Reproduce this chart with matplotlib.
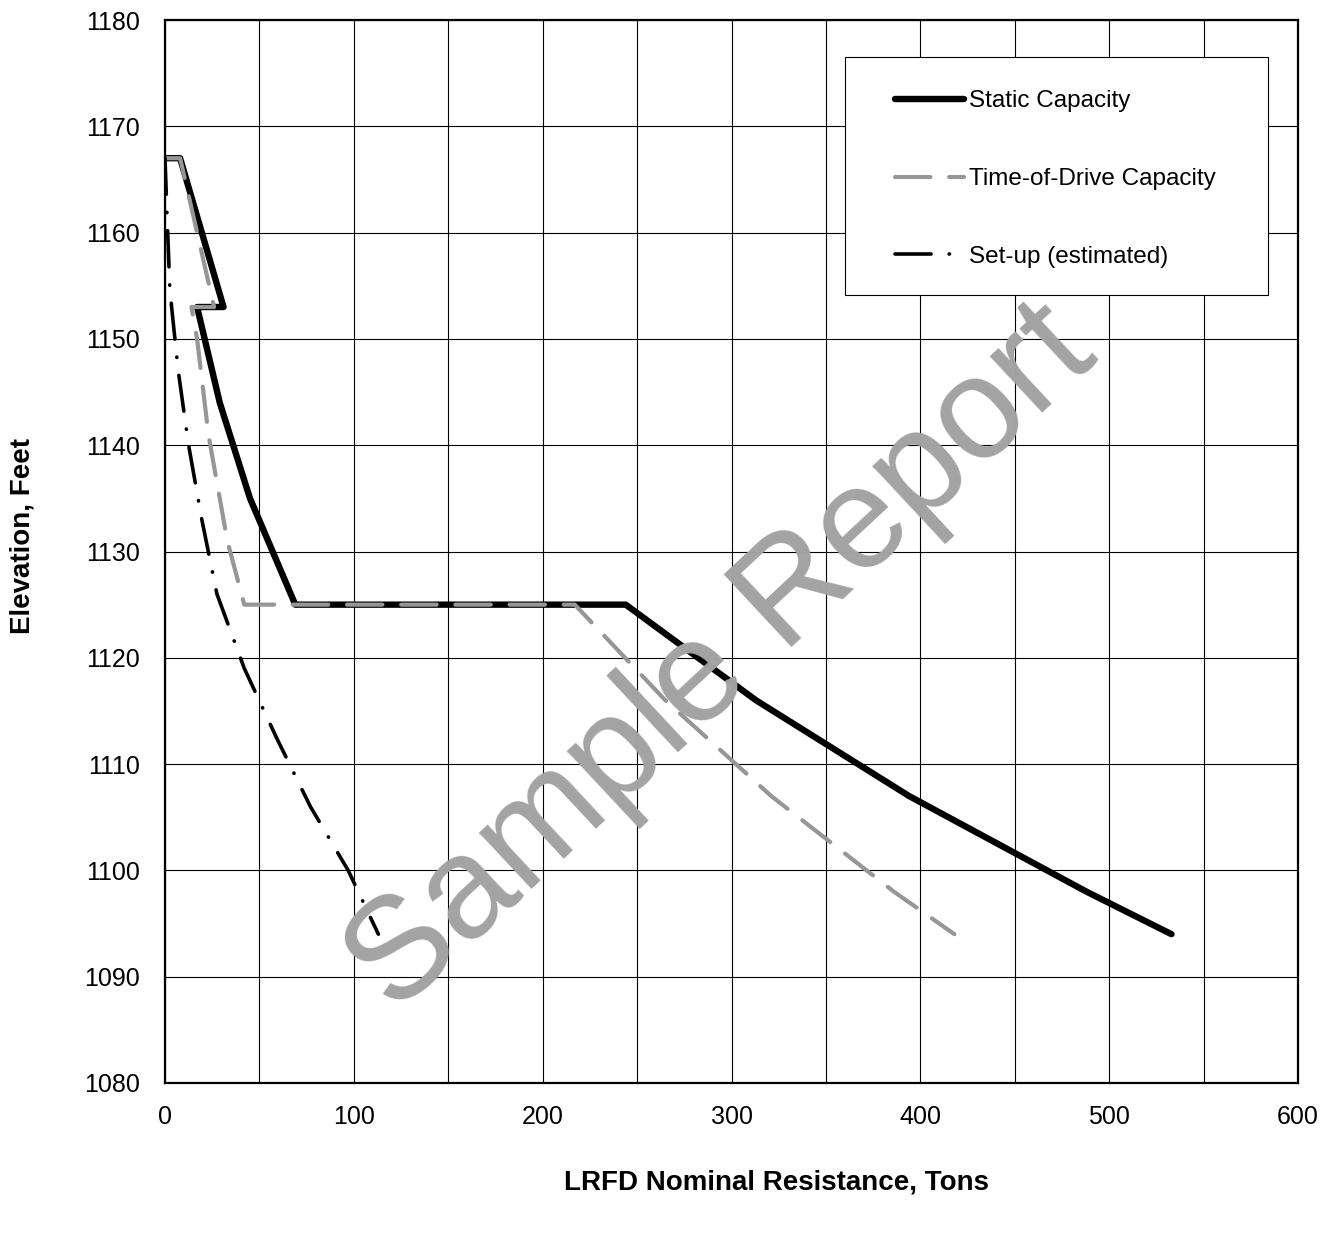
import matplotlib
matplotlib.use("Agg")
import matplotlib.pyplot as plt
from matplotlib.patches import Rectangle

plt.rcParams['font.family'] = ['Liberation Sans', 'DejaVu Sans']

# static capacity curve (tons vs elevation)
static_tons = [0, 8, 31, 17, 29, 45, 69, 244, 313, 394, 488, 533]
static_elev = [1167, 1167, 1153, 1153, 1144, 1135, 1125, 1125, 1116, 1107, 1098, 1094]

# time-of-drive capacity
tod_tons = [0, 8, 26, 14, 17, 23, 33, 42, 217, 265, 321, 386, 418]
tod_elev = [1167, 1167, 1153, 1153, 1150, 1141, 1131, 1125, 1125, 1116, 1107, 1098, 1094]

# set-up (estimated)
setup_tons = [0, 1, 2.5, 3.5, 7, 12.5, 19.5, 27.5, 42, 59, 77, 97, 113]
setup_elev = [1167, 1162, 1155, 1153, 1147, 1140, 1133, 1126, 1119, 1112.5, 1106, 1100, 1094]

xticks = [0, 100, 200, 300, 400, 500, 600]
yticks = [1080, 1090, 1100, 1110, 1120, 1130, 1140, 1150, 1160, 1170, 1180]

fig = plt.figure(figsize=(13.3, 12.58), dpi=100)
ax = fig.add_axes([165/1330, 1-1083/1258, (1298-165)/1330, (1083-20)/1258])

l1, = ax.plot(static_tons, static_elev, color='black', lw=4.6,
              solid_capstyle='round', zorder=3, label='Static Capacity')
l2, = ax.plot(tod_tons, tod_elev, color='#969696', lw=3,
              linestyle=(0, (8.5, 4.5)), dash_capstyle='round', zorder=4,
              label='Time-of-Drive Capacity')
l3, = ax.plot(setup_tons, setup_elev, color='black', lw=2.6,
              linestyle=(0, (10, 5, 0.1, 5)), dash_capstyle='round', zorder=5,
              label='Set-up (estimated)')

ax.set_xlim(0, 600)
ax.set_ylim(1080, 1180)
ax.set_xticks(range(0, 601, 50))
ax.set_xticklabels([str(v) if v in xticks else '' for v in range(0, 601, 50)])
ax.set_yticks(yticks)
ax.grid(True, color='black', lw=0.8)
ax.set_axisbelow(True)
ax.tick_params(length=0, labelsize=18)
ax.tick_params(axis='x', pad=16)
ax.tick_params(axis='y', pad=18)
for s in ax.spines.values():
    s.set_linewidth(1.6)
    s.set_zorder(6)

# legend box
ax.add_patch(Rectangle((0.600, 0.741), 0.3735, 0.224, transform=ax.transAxes,
                       facecolor='white', edgecolor='black', lw=0.8, zorder=6))
leg = ax.legend(handles=[l1, l2, l3], loc='upper left',
                bbox_to_anchor=(0.644, 0.934), frameon=False, fontsize=17.5,
                handlelength=2.85, handletextpad=0.2, labelspacing=2.3,
                borderpad=0, borderaxespad=0)
leg.set_zorder(7)

fig.text(23/1330, 1-536/1258, 'Elevation, Feet', rotation=90, ha='center',
         va='center', fontsize=20, fontweight='bold')
fig.text(776/1330, 1-1183/1258, 'LRFD Nominal Resistance, Tons', ha='center',
         va='center', fontsize=20, fontweight='bold')

# watermark
fig.text(722/1330, 1-660/1258, 'Sample Report', rotation=43, ha='center',
         va='center', fontsize=104, color='#a3a3a3', zorder=10)

fig.savefig('out.png', dpi=100)
